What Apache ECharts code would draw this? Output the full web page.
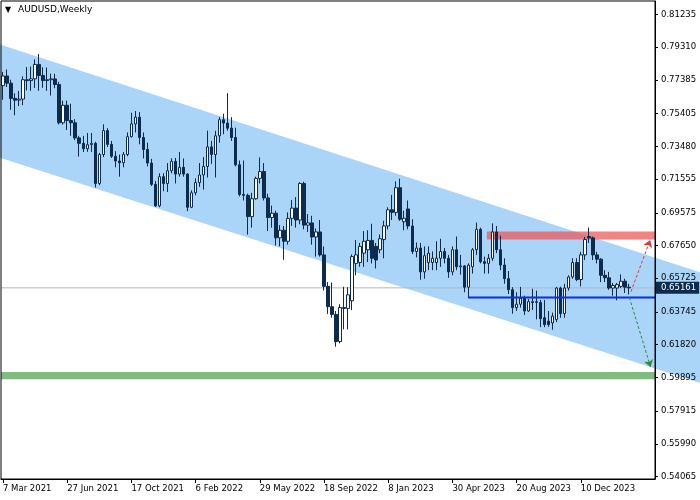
<!DOCTYPE html>
<html><head><meta charset="utf-8">
<script src="https://cdn.jsdelivr.net/npm/echarts@6/dist/echarts.min.js"></script>
<style>html,body{margin:0;padding:0;background:#fff}#c{width:700px;height:500px}</style>
</head><body><div id="c"></div>
<script>
// ---- data ----
const symbolTitle = 'AUDUSD,Weekly';
const firstWeek = [2021, 2, 7];          // 7 Mar 2021 (weekly bars)
const slotCount = 163;                   // weekly slots shown on the time axis
const labelEvery = 16;                   // a date label every 16 weeks
const lastLabelIndex = 144;              // 10 Dec 2023
const monthNames = ['Jan','Feb','Mar','Apr','May','Jun','Jul','Aug','Sep','Oct','Nov','Dec'];

const opens = [
.7705,.7762,.7720,.7630,.7620,.7626,.7740,.7735,.7745,.7830,
.7765,.7735,.7740,.7745,.7712,.7487,.7590,.7500,.7487,.7398,
.7366,.7334,.7358,.7366,.7130,.7300,.7441,.7360,.7290,.7262,
.7252,.7300,.7405,.7480,.7520,.7400,.7330,.7250,.7125,.6998,
.7170,.7130,.7205,.7260,.7185,.7225,.7185,.6990,.7075,.7135,
.7180,.7230,.7345,.7300,.7410,.7505,.7485,.7455,.7400,.7240,
.7065,.7060,.6935,.7040,.7160,.7200,.7045,.6930,.6955,.6810,
.6855,.6790,.6925,.6985,.6915,.7130,.6885,.6898,.6815,.6845,
.6710,.6525,.6405,.6360,.6200,.6400,.6395,.6440,.6660,.6665,
.6720,.6740,.6795,.6760,.6740,.6800,.6880,.6975,.6960,.7105,
.6905,.6980,.6880,.6730,.6750,.6610,.6665,.6665,.6665,.6690,
.6730,.6690,.6610,.6740,.6640,.6645,.6520,.6640,.6740,.6860,
.6670,.6660,.6690,.6845,.6740,.6650,.6570,.6505,.6400,.6420,
.6455,.6380,.6435,.6430,.6430,.6340,.6320,.6310,.6330,.6515,
.6365,.6515,.6580,.6665,.6565,.6710,.6818,.6810,.6710,.6685,
.6590,.6575,.6515,.6515,.6525,.6555,.6520];
const closes = [
.7762,.7720,.7630,.7620,.7626,.7740,.7735,.7745,.7830,.7765,
.7735,.7740,.7745,.7712,.7487,.7590,.7500,.7487,.7398,.7366,
.7334,.7358,.7366,.7130,.7300,.7441,.7360,.7290,.7262,.7252,
.7300,.7405,.7480,.7520,.7400,.7330,.7250,.7125,.6998,.7170,
.7130,.7205,.7260,.7185,.7225,.7185,.6990,.7075,.7135,.7180,
.7230,.7345,.7300,.7410,.7505,.7485,.7455,.7400,.7240,.7065,
.7060,.6935,.7040,.7160,.7200,.7045,.6930,.6955,.6810,.6855,
.6790,.6925,.6985,.6915,.7130,.6885,.6898,.6815,.6845,.6710,
.6525,.6405,.6360,.6200,.6400,.6395,.6475,.6700,.6710,.6760,
.6790,.6795,.6690,.6680,.6805,.6880,.6975,.6960,.7105,.6920,
.6925,.6880,.6730,.6750,.6610,.6705,.6720,.6690,.6690,.6730,
.6690,.6610,.6740,.6640,.6645,.6520,.6650,.6740,.6860,.6670,
.6660,.6690,.6845,.6740,.6650,.6570,.6505,.6400,.6420,.6455,
.6380,.6435,.6430,.6435,.6335,.6300,.6300,.6350,.6515,.6365,
.6515,.6580,.6665,.6565,.6710,.6800,.6810,.6710,.6685,.6590,
.6575,.6515,.6530,.6535,.6555,.6520,.6516];
const lows = [
.7622,.7697,.7563,.7531,.7585,.7590,.7677,.7675,.7692,.7675,
.7692,.7675,.7647,.7690,.7477,.7476,.7444,.7410,.7385,.7288,
.7315,.7316,.7316,.7106,.7120,.7285,.7344,.7280,.7225,.7170,
.7225,.7290,.7400,.7430,.7360,.7277,.7230,.7115,.6993,.6990,
.7085,.7080,.7190,.7130,.7170,.7170,.6967,.6985,.7060,.7110,
.7094,.7165,.7245,.7165,.7370,.7420,.7440,.7380,.7230,.7054,
.7030,.6829,.6870,.7035,.7130,.7030,.6850,.6870,.6765,.6760,
.6681,.6770,.6880,.6870,.6890,.6860,.6845,.6770,.6700,.6700,
.6500,.6363,.6340,.6170,.6190,.6272,.6272,.6385,.6590,.6640,
.6640,.6668,.6660,.6630,.6720,.6690,.6860,.6915,.6940,.6910,
.6855,.6860,.6715,.6695,.6564,.6570,.6620,.6620,.6620,.6640,
.6660,.6575,.6590,.6620,.6594,.6490,.6458,.6600,.6710,.6660,
.6600,.6600,.6675,.6720,.6620,.6540,.6480,.6364,.6380,.6400,
.6357,.6375,.6386,.6331,.6285,.6285,.6287,.6270,.6315,.6340,
.6340,.6500,.6570,.6555,.6525,.6680,.6780,.6680,.6660,.6550,
.6550,.6505,.6470,.6443,.6515,.6486,.6477];
const highs = [
.7786,.7800,.7740,.7660,.7674,.7760,.7815,.7818,.7860,.7891,
.7813,.7812,.7776,.7775,.7728,.7617,.7617,.7599,.7508,.7410,
.7410,.7427,.7427,.7375,.7310,.7478,.7455,.7380,.7320,.7300,
.7315,.7430,.7546,.7556,.7550,.7430,.7370,.7275,.7145,.7190,
.7190,.7250,.7278,.7280,.7315,.7277,.7190,.7090,.7160,.7250,
.7285,.7441,.7380,.7440,.7520,.7540,.7661,.7520,.7458,.7265,
.7265,.7070,.7075,.7170,.7283,.7250,.7070,.7000,.6970,.6885,
.6880,.6960,.7033,.7050,.7137,.7140,.6950,.6940,.6865,.6915,
.6760,.6550,.6547,.6380,.6420,.6522,.6520,.6713,.6797,.6780,
.6850,.6855,.6893,.6780,.6830,.6910,.6990,.7063,.7142,.7158,
.6970,.7030,.6920,.6783,.6780,.6760,.6760,.6730,.6790,.6805,
.6750,.6710,.6760,.6818,.6710,.6650,.6660,.6750,.6900,.6870,
.6700,.6715,.6895,.6880,.6823,.6690,.6615,.6520,.6490,.6522,
.6470,.6450,.6511,.6500,.6445,.6445,.6380,.6370,.6522,.6523,
.6540,.6590,.6690,.6690,.6728,.6815,.6871,.6818,.6728,.6690,
.6620,.6610,.6545,.6545,.6595,.6570,.6540];

const priceTicks = [0.81235,0.79310,0.77385,0.75405,0.73480,0.71555,0.69575,0.67650,
                    0.65725,0.63745,0.61820,0.59895,0.57915,0.55990,0.54065];
const priceMin = 0.5392, priceMax = 0.8203;
const currentPrice = 0.65161;

// annotations in (bar index, price) coordinates
const channelUpper = [[-0.75, 0.79467], [173.97, 0.66059]];
const channelLower = [[-0.75, 0.72807], [173.97, 0.59546]];
const resistanceZone = [120.6, 0.68475, 0.68004];   // from index, top, bottom
const supportZone = [-0.5, 0.60213, 0.59786];
const supportLine = [115.9, 0.64597];
const upArrow = [[156.5, 0.64935], [161.3, 0.67974]];
const downArrow = [[156.1, 0.64597], [161.4, 0.60507]];

// ---- build ----
const categories = [];
for (let i = 0; i < slotCount; i++) {
  const d = new Date(Date.UTC(firstWeek[0], firstWeek[1], firstWeek[2] + 7 * i));
  categories.push(d.getUTCDate() + ' ' + monthNames[d.getUTCMonth()] + ' ' + d.getUTCFullYear());
}
const candles = opens.map((o, i) => [o, closes[i], lows[i], highs[i]]);
const xEnd = slotCount - 0.5;
const FONT = 'DejaVu Sans';
const AX = 8.5;
const DARK = '#0d2b4d';
const showLabel = (i) => i % labelEvery === 0 && i <= lastLabelIndex;

const chart = echarts.init(document.getElementById('c'), null, {renderer: 'canvas'});
chart.setOption({
  animation: false,
  backgroundColor: '#ffffff',
  title: [
    {text: '▼', left: 5, top: 6, padding: 0, textStyle: {fontSize: 8, color: '#000', fontWeight: 'normal', fontFamily: FONT}},
    {text: symbolTitle, left: 18, top: 5, padding: 0, textStyle: {fontSize: 9, color: '#000', fontWeight: 'normal', fontFamily: FONT}}
  ],
  grid: {left: 1, top: 1, right: 45, bottom: 21, show: true, z: 10, borderColor: '#000', borderWidth: 1, backgroundColor: 'transparent'},
  xAxis: [
    {type: 'category', data: categories, boundaryGap: true, z: 10,
     axisLine: {show: true, lineStyle: {color: '#000', width: 1}},
     axisTick: {show: true, alignWithLabel: true, interval: showLabel, length: 4, lineStyle: {color: '#000'}},
     axisLabel: {interval: showLabel, align: 'left', margin: 5, color: '#000', fontFamily: FONT, fontSize: AX},
     splitLine: {show: false}},
    {type: 'value', min: -0.5, max: xEnd, show: false}
  ],
  yAxis: {type: 'value', position: 'right', min: priceMin, max: priceMax, z: 10,
    axisLine: {show: true, onZero: false, lineStyle: {color: '#000', width: 1}},
    axisTick: {show: true, length: 3, customValues: priceTicks, lineStyle: {color: '#000'}},
    axisLabel: {customValues: priceTicks, formatter: (v) => v.toFixed(5), margin: 6, color: '#000', fontFamily: FONT, fontSize: AX},
    splitLine: {show: false}},
  series: [
    {type: 'custom', xAxisIndex: 1, yAxisIndex: 0, clip: false, z: 0, silent: true,
     data: [[0, currentPrice]],
     renderItem: (params, api) => {
       const pts = [channelUpper[0], channelUpper[1], channelLower[1], channelLower[0]].map(p => api.coord(p));
       return {type: 'polygon', z2: -10, shape: {points: pts}, style: {fill: '#aad5f9'}};
     }},
    {type: 'line', xAxisIndex: 1, yAxisIndex: 0, z: 2, silent: true, symbol: 'none',
     data: [[-0.5, currentPrice], [xEnd, currentPrice]],
     lineStyle: {color: '#b8b8b8', width: 1},
     endLabel: {show: true, formatter: currentPrice.toFixed(5), color: '#fff', backgroundColor: DARK,
                fontFamily: FONT, fontSize: AX, padding: [2, 3, 1, 5], distance: 1},
     markArea: {silent: true, z: 2, data: [
       [{coord: [resistanceZone[0], resistanceZone[1]], itemStyle: {color: 'rgba(240,80,80,0.7)'}}, {coord: [xEnd, resistanceZone[2]]}],
       [{coord: [supportZone[0], supportZone[1]], itemStyle: {color: 'rgba(60,150,60,0.65)'}}, {coord: [xEnd, supportZone[2]]}]
     ]}},
    {type: 'candlestick', xAxisIndex: 0, yAxisIndex: 0, z: 3, barWidth: 3, data: candles,
     itemStyle: {color: '#ffffff', color0: DARK, borderColor: DARK, borderColor0: DARK, borderWidth: 1}},
    {type: 'line', xAxisIndex: 1, yAxisIndex: 0, z: 4, silent: true, symbol: 'none',
     data: [[supportLine[0], supportLine[1]], [xEnd, supportLine[1]]],
     lineStyle: {color: '#0a2de6', width: 2},
     markLine: {silent: true, symbol: ['none', 'arrow'], symbolSize: 7, label: {show: false},
       data: [
         [{coord: upArrow[0], lineStyle: {color: '#e03a3a', type: [3, 2], width: 1}}, {coord: upArrow[1]}],
         [{coord: downArrow[0], lineStyle: {color: '#2e8b3e', type: [3, 2], width: 1}}, {coord: downArrow[1]}]
       ]}}
  ]
});
</script></body></html>
